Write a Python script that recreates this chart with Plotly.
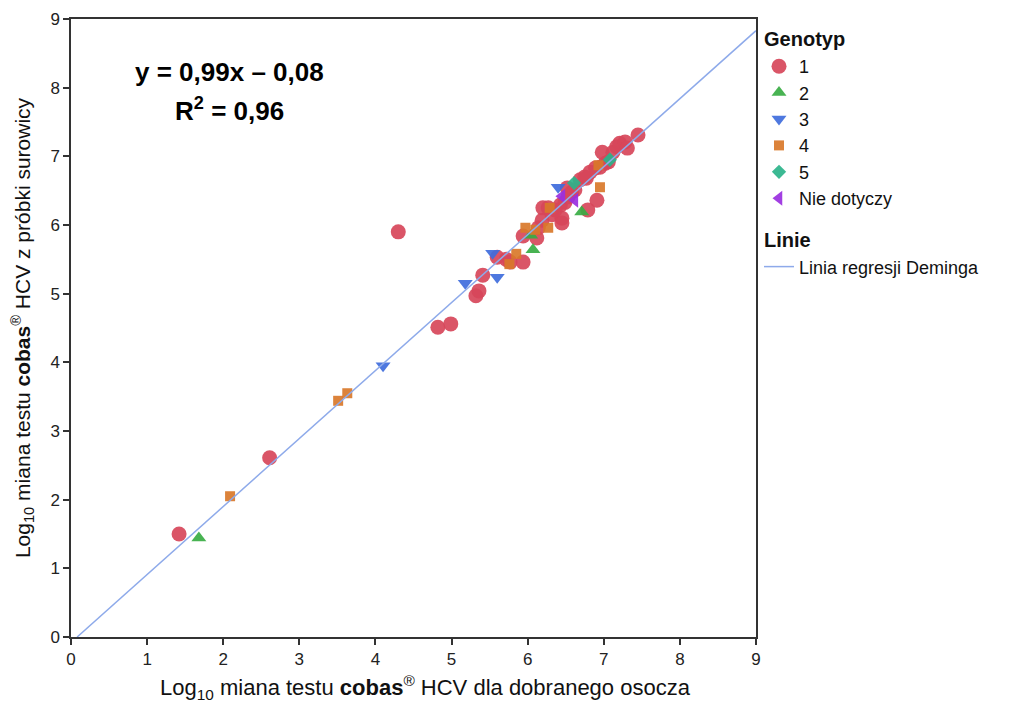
import plotly.graph_objects as go

# Genotype 1
g1_x = [1.42, 2.61, 4.30, 4.82, 4.99, 5.32, 5.36, 5.41, 5.60, 5.72, 5.77, 5.94, 5.94, 6.12, 6.14,
        6.19, 6.20, 6.27, 6.32, 6.45, 6.45, 6.43, 6.49, 6.53, 6.58, 6.52, 6.69, 6.75, 6.82, 6.89,
        6.95, 7.02, 7.06, 6.91, 6.79, 6.98, 7.12, 7.17, 7.21, 7.28, 7.31, 7.45, 6.36, 6.62, 6.77]
g1_y = [1.50, 2.61, 5.90, 4.51, 4.56, 4.97, 5.04, 5.27, 5.53, 5.50, 5.46, 5.46, 5.84, 5.81, 5.96,
        6.07, 6.25, 6.25, 6.15, 6.10, 6.03, 6.29, 6.33, 6.41, 6.48, 6.54, 6.66, 6.70, 6.77, 6.83,
        6.84, 6.90, 6.92, 6.36, 6.22, 7.06, 7.06, 7.14, 7.19, 7.21, 7.12, 7.31, 6.22, 6.51, 6.68]
# Genotype 2
g2_x = [1.68, 6.07, 6.04, 6.71]
g2_y = [1.44, 5.64, 5.85, 6.19]
# Genotype 3
g3_x = [4.10, 5.18, 5.60, 5.54, 6.40]
g3_y = [3.95, 5.15, 5.24, 5.59, 6.55]
# Genotype 4
g4_x = [2.09, 3.51, 3.63, 5.85, 5.76, 5.97, 6.10, 6.27, 6.29, 6.93, 6.95]
g4_y = [2.05, 3.44, 3.55, 5.58, 5.43, 5.96, 5.93, 5.96, 6.25, 6.87, 6.55]
# Genotype 5
g5_x = [6.61, 7.08]
g5_y = [6.61, 6.95]
# Nie dotyczy
na_x = [6.45, 6.62]
na_y = [6.42, 6.36]

# Deming regression
slope = 0.99
intercept = -0.08
line_x = [-intercept / slope, 9.0]

ticks = [0, 1, 2, 3, 4, 5, 6, 7, 8, 9]

FONT = "Liberation Sans, Arial, sans-serif"

fig = go.Figure()

series = [
    ("1", g1_x, g1_y, "circle", "#d7465a", 15),
    ("2", g2_x, g2_y, "triangle-up", "#38ad43", 13),
    ("3", g3_x, g3_y, "triangle-down", "#3f6cdc", 13),
    ("4", g4_x, g4_y, "square", "#d9782a", 10),
    ("5", g5_x, g5_y, "diamond", "#2bb38a", 11),
    ("Nie dotyczy", na_x, na_y, "triangle-left", "#9a2fe0", 13),
]
for i, (name, xs, ys, sym, col, sz) in enumerate(series):
    fig.add_trace(go.Scatter(
        x=xs, y=ys, mode="markers", name=name,
        marker=dict(symbol=sym, color=col, size=sz, line=dict(width=0), opacity=0.92),
        legendgroup="geno",
        legendgrouptitle=dict(text="<b>Genotyp</b>", font=dict(size=20, color="#111")) if i == 0 else None,
    ))

fig.add_trace(go.Scatter(
    x=line_x, y=[slope * v + intercept for v in line_x], mode="lines",
    name="Linia regresji Deminga",
    line=dict(color="#8eaaea", width=1.5),
    legendgroup="lines",
    legendgrouptitle=dict(text="<b>Linie</b>", font=dict(size=20, color="#111")),
))

fig.add_annotation(x=0.232, y=0.914, xref="paper", yref="paper", xanchor="center", yanchor="middle",
                   text="<b>y = 0,99x – 0,08</b>", showarrow=False, font=dict(size=26, color="#000", family=FONT))
fig.add_annotation(x=0.232, y=0.854, xref="paper", yref="paper", xanchor="center", yanchor="middle",
                   text="<b>R<sup>2</sup> = 0,96</b>", showarrow=False, font=dict(size=26, color="#000", family=FONT))
# x axis title (placed slightly right of centre, as in the original)
fig.add_annotation(x=0.517, y=-0.081, xref="paper", yref="paper", xanchor="center", yanchor="middle",
                   text="Log<sub>10</sub> miana testu <b>cobas</b><sup>®</sup> HCV dla dobranego osocza",
                   showarrow=False, font=dict(size=22, color="#111", family=FONT))

axis_common = dict(
    range=[0, 9], tickvals=ticks, ticktext=[str(t) for t in ticks],
    showgrid=False, zeroline=False, showline=True, linecolor="#333", linewidth=1.5,
    mirror=True, ticks="outside", ticklen=6, tickcolor="#333", tickwidth=1.5,
    tickfont=dict(size=17, color="#222", family=FONT), automargin=False,
)

# page body has an 8px default margin; figure sized to fit the 1013x704 window
fig.update_layout(
    width=1005, height=696,
    margin=dict(l=63, r=257, t=11, b=67),
    paper_bgcolor="white", plot_bgcolor="white",
    font=dict(family=FONT, color="#111"),
    xaxis=dict(**axis_common),
    yaxis=dict(**axis_common,
               title=dict(text="Log<sub>10</sub> miana testu <b>cobas</b><sup>®</sup> HCV z próbki surowicy",
                          font=dict(size=21, color="#111"), standoff=24)),
    legend=dict(x=1.0044, y=1.0, xanchor="left", yanchor="top",
                font=dict(size=18, color="#111", family=FONT),
                tracegroupgap=13, bgcolor="rgba(0,0,0,0)"),
    showlegend=True,
)

fig.write_html("out.html")
